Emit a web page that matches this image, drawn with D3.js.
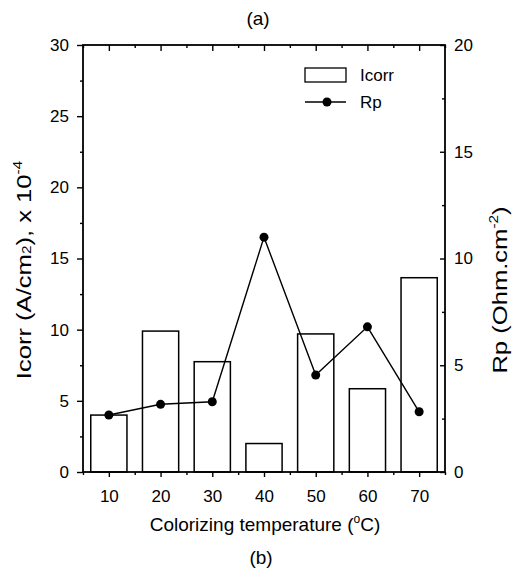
<!DOCTYPE html>
<html>
<head>
<meta charset="utf-8">
<script src="https://cdn.jsdelivr.net/npm/d3@7"></script>
<style>
body{margin:0;background:#fff;}
svg{font-family:Arial,"Liberation Sans",sans-serif;}
.axis path.domain{display:none;}
.axis line{stroke:#000;stroke-width:1.4;}
.axis text{font-size:17px;fill:#000;}
</style>
</head>
<body>
<svg id="chart" width="512" height="572"></svg>
<script>
// data
const temps = [10, 20, 30, 40, 50, 60, 70];
const icorr = [4.0, 9.9, 7.75, 2.0, 9.7, 5.85, 13.65];
const rp = [2.67, 3.17, 3.29, 11.0, 4.54, 6.8, 2.82];
const leftTicks = [0, 5, 10, 15, 20, 25, 30];
const rightTicks = [0, 5, 10, 15, 20];
const xTicks = [10, 20, 30, 40, 50, 60, 70];

const svg = d3.select('#chart');
const pLeft = 83, pRight = 445, pTop = 45, pBottom = 472;

const x = d3.scaleLinear().domain([5, 75]).range([pLeft, pRight]);
const yL = d3.scaleLinear().domain([0, 30]).range([pBottom, pTop]);
const yR = d3.scaleLinear().domain([0, 20]).range([pBottom, pTop]);
const barW = 7; // in degrees

// minor ticks
const xMinor = d3.range(5, 76, 10);
const yLMinor = d3.range(2.5, 30, 5);
const yRMinor = d3.range(2.5, 20, 5);

// bars
svg.append('g').selectAll('rect')
    .data(temps)
    .enter()
    .append('rect')
    .attr('x', (d) => x(d - barW / 2))
    .attr('width', (d) => x(d + barW / 2) - x(d - barW / 2))
    .attr('y', (d, i) => yL(icorr[i]))
    .attr('height', (d, i) => yL(0) - yL(icorr[i]))
    .attr('fill', '#fff')
    .attr('stroke', '#000')
    .attr('stroke-width', 1.5);

// Rp line
const line = d3.line()
    .x((d) => x(d))
    .y((d, i) => yR(rp[i]));
svg.append('path')
    .datum(temps)
    .attr('d', line)
    .attr('fill', 'none')
    .attr('stroke', '#000')
    .attr('stroke-width', 1.4);
svg.append('g').selectAll('circle')
    .data(temps)
    .enter()
    .append('circle')
    .attr('cx', (d) => x(d))
    .attr('cy', (d, i) => yR(rp[i]))
    .attr('r', 4.5)
    .attr('fill', '#000');

// axes
svg.append('g').attr('class', 'axis')
    .attr('transform', `translate(${pLeft},0)`)
    .call(d3.axisLeft(yL).tickValues(leftTicks).tickSize(6).tickPadding(8));
svg.append('g').attr('class', 'axis')
    .attr('transform', `translate(${pLeft},0)`)
    .call(d3.axisLeft(yL).tickValues(yLMinor).tickSize(3).tickFormat(''));

svg.append('g').attr('class', 'axis')
    .attr('transform', `translate(${pRight},0)`)
    .call(d3.axisRight(yR).tickValues(rightTicks).tickSize(-5).tickPadding(9));
svg.append('g').attr('class', 'axis')
    .attr('transform', `translate(${pRight},0)`)
    .call(d3.axisRight(yR).tickValues(yRMinor).tickSize(-3).tickFormat(''));

svg.append('g').attr('class', 'axis')
    .attr('transform', `translate(0,${pBottom})`)
    .call(d3.axisBottom(x).tickValues(xTicks).tickSize(5).tickPadding(13));
svg.append('g').attr('class', 'axis')
    .attr('transform', `translate(0,${pBottom})`)
    .call(d3.axisBottom(x).tickValues(xMinor).tickSize(3).tickFormat(''));

svg.append('g').attr('class', 'axis')
    .attr('transform', `translate(0,${pTop})`)
    .call(d3.axisTop(x).tickValues(xTicks).tickSize(-6).tickFormat(''));
svg.append('g').attr('class', 'axis')
    .attr('transform', `translate(0,${pTop})`)
    .call(d3.axisTop(x).tickValues(xMinor).tickSize(-3).tickFormat(''));

// frame
svg.append('rect')
    .attr('x', pLeft).attr('y', pTop)
    .attr('width', pRight - pLeft).attr('height', pBottom - pTop)
    .attr('fill', 'none')
    .attr('stroke', '#000')
    .attr('stroke-width', 1.8);

// titles
svg.append('text')
    .attr('x', 258).attr('y', 25)
    .attr('text-anchor', 'middle')
    .attr('font-size', 19)
    .text('(a)');
svg.append('text')
    .attr('x', 261).attr('y', 564)
    .attr('text-anchor', 'middle')
    .attr('font-size', 19)
    .text('(b)');

const xt = svg.append('text')
    .attr('x', 265).attr('y', 531)
    .attr('text-anchor', 'middle')
    .attr('font-size', 19);
xt.append('tspan').text('Colorizing temperature (');
xt.append('tspan').attr('dy', -8).attr('font-size', 12).text('o');
xt.append('tspan').attr('dy', 8).text('C)');

// rotated labels are stretched lengthwise in the scan
const yt = svg.append('text')
    .attr('transform', 'translate(31,270) rotate(-90) scale(1.28,1)')
    .attr('text-anchor', 'middle')
    .attr('font-size', 20);
yt.append('tspan').text('Icorr (A/cm');
yt.append('tspan').attr('font-size', 12).text('2');
yt.append('tspan').text('), x 10');
yt.append('tspan').attr('dy', -9).attr('font-size', 12).text('-4');

const rt = svg.append('text')
    .attr('transform', 'translate(507,290) rotate(-90) scale(1.28,1)')
    .attr('text-anchor', 'middle')
    .attr('font-size', 20);
rt.append('tspan').text('Rp (Ohm.cm');
rt.append('tspan').attr('dy', -9).attr('font-size', 12).text('-2');
rt.append('tspan').attr('dy', 9).text(')');

// legend
const lg = svg.append('g');
lg.append('rect')
    .attr('x', 305).attr('y', 68)
    .attr('width', 41).attr('height', 14)
    .attr('fill', '#fff').attr('stroke', '#000').attr('stroke-width', 1.3);
lg.append('text').attr('x', 360).attr('y', 81).attr('font-size', 17).text('Icorr');
lg.append('line')
    .attr('x1', 305).attr('x2', 346).attr('y1', 102).attr('y2', 102)
    .attr('stroke', '#000').attr('stroke-width', 1.3);
lg.append('circle').attr('cx', 327).attr('cy', 102).attr('r', 4.5).attr('fill', '#000');
lg.append('text').attr('x', 360).attr('y', 108).attr('font-size', 17).text('Rp');
</script>
</body>
</html>
